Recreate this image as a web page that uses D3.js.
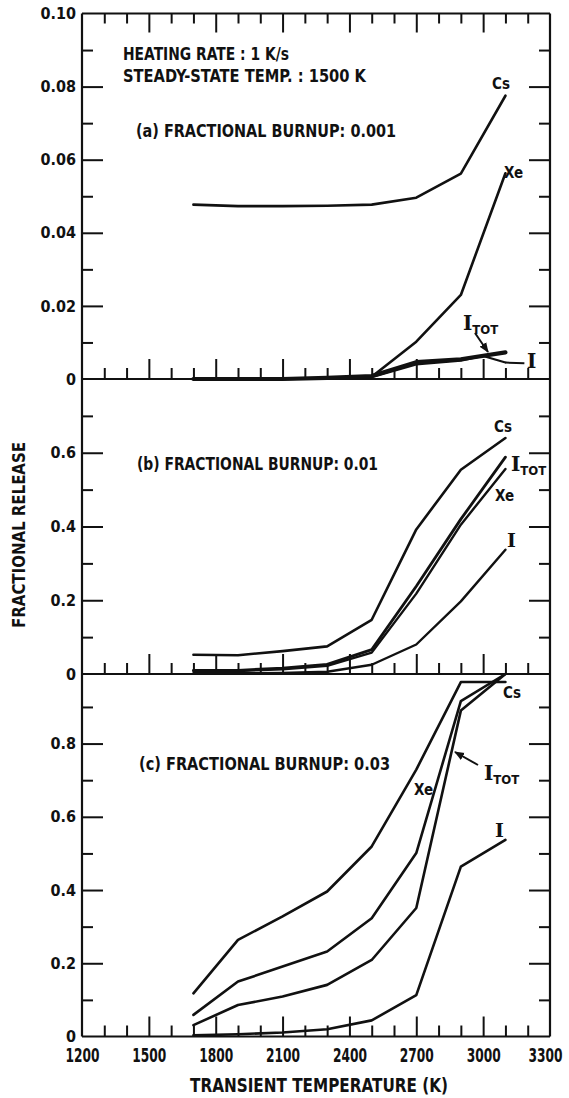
<!DOCTYPE html>
<html lang="en">
<meta charset="utf-8">
<title>Fractional release vs transient temperature</title>
<style>
  body { margin: 0; background: #fff; }
  svg { display: block; }
  .lbl { font-family: "DejaVu Sans Condensed", "DejaVu Sans", sans-serif; font-weight: bold; fill: #111; }
  .ytick text { font-family: "DejaVu Sans Condensed", "DejaVu Sans", sans-serif; font-weight: bold; font-size: 16px; fill: #111; }
  .xtick text { font-family: "DejaVu Sans Condensed", "DejaVu Sans", sans-serif; font-weight: bold; font-size: 19px; fill: #111; }
  .serif { font-family: "DejaVu Serif", "Liberation Serif", serif; font-weight: bold; fill: #111; }
</style>
<body>
<div id="chart"></div>
<script src="https://cdn.jsdelivr.net/npm/d3@7"></script>
<script>
// temperatures (K) at which every curve was computed
var temps = [1700, 1900, 2100, 2300, 2500, 2700, 2900, 3100];

// (a) burnup 0.001
var aCs   = [0.0477, 0.0473, 0.0473, 0.0474, 0.0477, 0.0496, 0.0562, 0.0775];
var aXe   = [0, 0, 0, 0.0002, 0.0006, 0.0102, 0.0230, 0.0563];
var aItot = [0, 0, 0, 0.0003, 0.0008, 0.0046, 0.0054, 0.0073];
var aITemps = [1700, 1900, 2100, 2300, 2500, 2700, 2900, 3000, 3100];
var aI    = [0, 0, 0, 0.0002, 0.0005, 0.0040, 0.0050, 0.0063, 0.0045];

// (b) burnup 0.01
var bCs   = [0.052, 0.051, 0.062, 0.075, 0.147, 0.392, 0.554, 0.640];
var bItot = [0.010, 0.010, 0.016, 0.026, 0.066, 0.238, 0.420, 0.588];
var bXe   = [0.008, 0.008, 0.013, 0.022, 0.058, 0.218, 0.405, 0.556];
var bI    = [0.002, 0.002, 0.003, 0.006, 0.025, 0.080, 0.197, 0.337];

// (c) burnup 0.03
var cCs   = [0.118, 0.264, 0.328, 0.396, 0.519, 0.729, 0.968, 0.968];
var cXe   = [0.059, 0.150, 0.191, 0.232, 0.323, 0.501, 0.916, 0.990];
var cItot = [0.031, 0.086, 0.109, 0.141, 0.209, 0.351, 0.890, 0.990];
var cI    = [0.003, 0.006, 0.011, 0.020, 0.044, 0.113, 0.464, 0.537];

var xTickLabels = [1200, 1500, 1800, 2100, 2400, 2700, 3000, 3300];
var aYLabels = [0, 0.02, 0.04, 0.06, 0.08, 0.10];
var bYLabels = [0, 0.2, 0.4, 0.6];
var cYLabels = [0, 0.2, 0.4, 0.6, 0.8];

var W = 569, H = 1098;
var svg = d3.select("#chart").append("svg").attr("width", W).attr("height", H);

var x = d3.scaleLinear().domain([1200, 3300]).range([82, 550]);

// three stacked panels share the x scale
var panels = [
  { y: d3.scaleLinear().domain([0, 0.1]).range([379, 13.5]), step: 0.01, labels: aYLabels, fmt: d3.format(".2f") },
  { y: d3.scaleLinear().domain([0, 0.8]).range([674, 379]), step: 0.1, labels: bYLabels, fmt: d3.format(".1f") },
  { y: d3.scaleLinear().domain([0, 0.99]).range([1036.5, 674]), step: 0.1, labels: cYLabels, fmt: d3.format(".1f") }
];

var xMinor = d3.range(1300, 3300, 100).filter(function(t) { return t % 300 !== 0; });
var xMajor = d3.range(1500, 3300, 300);

function cleanAxis(g) {
  g.select(".domain").remove();
  g.selectAll("line").attr("stroke", "#111").attr("stroke-width", 2);
}

panels.forEach(function(p, i) {
  var top = p.y.range()[1], bottom = p.y.range()[0];
  var all = d3.range(p.step, p.y.domain()[1] - 1e-9, p.step).map(function(v) { return +v.toFixed(3); });
  var major = all.filter(function(v) { return p.labels.some(function(l) { return Math.abs(l - v) < 1e-9; }); });
  var minor = all.filter(function(v) { return major.indexOf(v) < 0; });

  // inward ticks on left and right edges
  [[minor, 11], [major, 21]].forEach(function(s) {
    svg.append("g").attr("transform", "translate(" + x.range()[0] + ",0)")
      .call(d3.axisRight(p.y).tickValues(s[0]).tickSize(s[1]).tickFormat("")).call(cleanAxis);
    svg.append("g").attr("transform", "translate(" + x.range()[1] + ",0)")
      .call(d3.axisLeft(p.y).tickValues(s[0]).tickSize(s[1]).tickFormat("")).call(cleanAxis);
    // ticks pointing up from each panel's bottom
    svg.append("g").attr("transform", "translate(0," + bottom + ")")
      .call(d3.axisTop(x).tickValues(s[1] === 11 ? xMinor : xMajor).tickSize(s[1] === 11 ? 11 : 20).tickFormat("")).call(cleanAxis);
    if (i === 0) {
      svg.append("g").attr("transform", "translate(0," + top + ")")
        .call(d3.axisBottom(x).tickValues(s[1] === 11 ? xMinor : xMajor).tickSize(s[1] === 11 ? 10 : 19).tickFormat("")).call(cleanAxis);
    }
  });

  // y tick labels
  svg.append("g").attr("class", "ytick")
    .attr("transform", "translate(" + (x.range()[0] - 3) + ",0)")
    .call(d3.axisLeft(p.y).tickValues(p.labels).tickSize(0)
      .tickFormat(function(d) { return d === 0 ? "0" : p.fmt(d); }))
    .call(function(g) { g.select(".domain").remove(); });

  // horizontal frame lines
  svg.append("line").attr("x1", x.range()[0]).attr("x2", x.range()[1])
    .attr("y1", bottom).attr("y2", bottom).attr("stroke", "#111").attr("stroke-width", 2.2);
  if (i === 0) {
    svg.append("line").attr("x1", x.range()[0]).attr("x2", x.range()[1])
      .attr("y1", top).attr("y2", top).attr("stroke", "#111").attr("stroke-width", 2.2);
  }
});

// vertical frame lines
[x.range()[0], x.range()[1]].forEach(function(px) {
  svg.append("line").attr("x1", px).attr("x2", px).attr("y1", panels[0].y.range()[1]).attr("y2", panels[2].y.range()[0])
    .attr("stroke", "#111").attr("stroke-width", 2.2);
});

// x tick labels (last one nudged in so it stays on the page)
svg.append("g").attr("class", "xtick")
  .attr("transform", "translate(0," + (panels[2].y.range()[0] + 9) + ")")
  .call(d3.axisBottom(x).tickValues(xTickLabels).tickSize(0).tickFormat(d3.format("d")))
  .call(function(g) {
    g.select(".domain").remove();
    g.selectAll("text").attr("textLength", 34).attr("lengthAdjust", "spacingAndGlyphs")
      .attr("x", function(d) { return d === 3300 ? -5 : 0; });
  });

// curves
function curve(p, ts, vals, width) {
  var line = d3.line().x(function(d) { return x(d[0]); }).y(function(d) { return p.y(d[1]); });
  svg.append("path").datum(ts.map(function(t, k) { return [t, vals[k]]; }))
    .attr("d", line).attr("fill", "none").attr("stroke", "#111")
    .attr("stroke-width", width).attr("stroke-linejoin", "round").attr("stroke-linecap", "round");
}
curve(panels[0], temps, aCs, 2.6);
curve(panels[0], temps, aXe, 2.6);
curve(panels[0], aITemps, aI, 2.2);
curve(panels[0], temps, aItot, 4.2);
curve(panels[1], temps, bCs, 2.6);
curve(panels[1], temps, bItot, 2.8);
curve(panels[1], temps, bXe, 2.4);
curve(panels[1], temps, bI, 2.4);
curve(panels[2], temps, cCs, 2.6);
curve(panels[2], temps, cXe, 2.6);
curve(panels[2], temps, cItot, 2.6);
curve(panels[2], temps, cI, 2.6);

// leader from the end of the (a) I curve to its label
svg.append("line").attr("x1", x(3100)).attr("x2", x(3185))
  .attr("y1", panels[0].y(0.0045)).attr("y2", panels[0].y(0.0043))
  .attr("stroke", "#111").attr("stroke-width", 2);

// arrow pointers from the I_TOT labels
svg.append("defs").append("marker").attr("id", "head")
  .attr("viewBox", "0 0 10 10").attr("refX", 9).attr("refY", 5)
  .attr("markerWidth", 5).attr("markerHeight", 5).attr("orient", "auto")
  .append("path").attr("d", "M0,1L10,5L0,9Z").attr("fill", "#111");
function pointer(x1, y1, x2, y2) {
  svg.append("line").attr("x1", x1).attr("y1", y1).attr("x2", x2).attr("y2", y2)
    .attr("stroke", "#111").attr("stroke-width", 2).attr("marker-end", "url(#head)");
}
pointer(475, 333, 488, 352);
pointer(478, 765, 455, 752);

// text helpers
function txt(s, px, py, size, opts) {
  opts = opts || {};
  var t = svg.append("text").attr("class", opts.cls || "lbl").attr("x", px).attr("y", py)
    .attr("font-size", size).text(s);
  if (opts.len) t.attr("textLength", opts.len).attr("lengthAdjust", "spacingAndGlyphs");
  if (opts.anchor) t.attr("text-anchor", opts.anchor);
  if (opts.transform) t.attr("transform", opts.transform);
  return t;
}
function itot(px, py) {
  var t = svg.append("text").attr("x", px).attr("y", py);
  t.append("tspan").attr("class", "serif").attr("font-size", 20).text("I");
  t.append("tspan").attr("class", "lbl").attr("font-size", 13).attr("dy", 4).text("TOT");
}

txt("HEATING RATE : 1 K/s", 123, 60, 18, { len: 166 });
txt("STEADY-STATE TEMP. : 1500 K", 123, 82, 18, { len: 243 });
txt("(a) FRACTIONAL BURNUP: 0.001", 136, 137, 18, { len: 260 });
txt("(b) FRACTIONAL BURNUP: 0.01", 137, 470, 18, { len: 241 });
txt("(c) FRACTIONAL BURNUP: 0.03", 139, 770, 18, { len: 251 });

// series labels
txt("Cs", 492, 89, 15);
txt("Xe", 504, 178, 15);
itot(463, 330);
txt("I", 527, 368, 20, { cls: "serif" });

txt("Cs", 494, 432, 15);
itot(511, 471);
txt("Xe", 495, 501, 15);
txt("I", 507, 547, 19, { cls: "serif" });

txt("Cs", 503, 698, 15);
txt("Xe", 414, 795, 15);
itot(484, 780);
txt("I", 495, 837, 19, { cls: "serif" });

// axis titles
txt("TRANSIENT TEMPERATURE (K)", 190, 1092, 19, { len: 258 });
txt("FRACTIONAL RELEASE", 0, 0, 17, { len: 186, anchor: "middle", transform: "translate(25,535) rotate(-90)" });
</script>
</body>
</html>
